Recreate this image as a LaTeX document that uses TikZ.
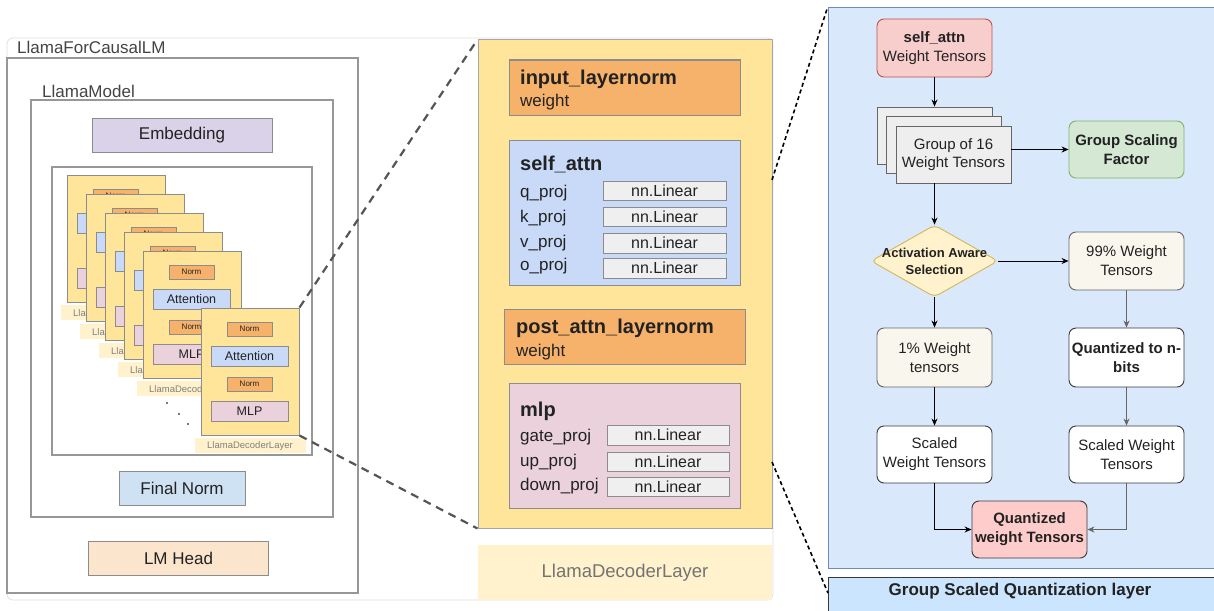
\documentclass[tikz,border=0pt]{standalone}
\usepackage{fontspec}
\setmainfont{Liberation Sans}
\usetikzlibrary{shapes.geometric,arrows.meta,calc}
\definecolor{bordgray}{HTML}{8C8C8C}
\definecolor{lbltxt}{HTML}{444444}
\definecolor{txt}{HTML}{222222}
\definecolor{layeryel}{HTML}{FFE599}
\definecolor{normorg}{HTML}{F6B26B}
\definecolor{attblue}{HTML}{C9DAF8}
\definecolor{mlppink}{HTML}{EAD1DC}
\definecolor{lingray}{HTML}{EFEFEF}
\definecolor{embpurp}{HTML}{D9D2E9}
\definecolor{finblue}{HTML}{CFE2F3}
\definecolor{headorg}{HTML}{FCE5CD}
\definecolor{lblband}{HTML}{FFF2CC}
\definecolor{rpfill}{HTML}{DAE8FC}
\definecolor{rpdraw}{HTML}{6C8EBF}
\definecolor{bandfill}{HTML}{CCE5FF}
\definecolor{saf}{HTML}{F8CECC}
\definecolor{sad}{HTML}{B85450}
\definecolor{gsff}{HTML}{D5E8D4}
\definecolor{gsfd}{HTML}{82B366}
\definecolor{diaf}{HTML}{FFF2CC}
\definecolor{diad}{HTML}{D6B656}
\definecolor{pctf}{HTML}{F9F7ED}
\definecolor{qwf}{HTML}{FFCCCC}
\definecolor{darkd}{HTML}{36393D}
\definecolor{grpf}{HTML}{EEEEEE}
\definecolor{grpd}{HTML}{666666}
\definecolor{dashg}{HTML}{555555}
\begin{document}
\begin{tikzpicture}[x=1pt,y=-1pt,
  f8/.style={font=\fontsize{8}{9}\selectfont},
  f9/.style={font=\fontsize{9.5}{11}\selectfont},
  f12/.style={font=\fontsize{12.5}{14}\selectfont},
  f13/.style={font=\fontsize{13}{17}\selectfont\bfseries},
  f15/.style={font=\fontsize{15}{19}\selectfont},
  f16/.style={font=\fontsize{16}{19}\selectfont},
  f17/.style={font=\fontsize{17}{20}\selectfont},
  f20/.style={font=\fontsize{20}{24}\selectfont\bfseries},
  blk/.style={rectangle, draw=bordgray, line width=1pt, inner sep=0pt, text=txt},
  frm/.style={rectangle, draw=bordgray!90, line width=1.2pt, inner sep=0pt},
  lbl/.style={inner sep=0pt, text=lbltxt, f17},
  ptxt/.style={inner sep=0pt, text=txt},
  lin/.style={blk, fill=lingray, minimum width=123, minimum height=19, f16},
  rbox/.style={rectangle, rounded corners=7, minimum width=115, minimum height=58, align=center, inner sep=0pt, line width=0.9pt, f15, text=txt},
  grp/.style={rectangle, fill=grpf, draw=grpd, line width=0.9pt, minimum width=115, minimum height=57, inner sep=0pt},
  arr/.style={-{Stealth[length=7pt,width=6pt]}, line width=0.9pt, draw=black},
  gdash/.style={draw=dashg, line width=2.2pt, dash pattern=on 8pt off 6pt},
  kdash/.style={draw=black, line width=1.6pt, dash pattern=on 4pt off 3pt}
]
\fill[white] (0,0) rectangle (1214,610);
\useasboundingbox (0,0) rectangle (1214,610);

% outer card
\draw[draw=gray!25, line width=0.8pt, rounded corners=6] (7,38) rectangle (773,600);

% ---------------- left panel ----------------
\node[frm, minimum width=351, minimum height=535] (causal) at (182.5,325.5) {};
\node[lbl, anchor=base west] (causallbl) at (17,53) {LlamaForCausalLM};
\node[frm, minimum width=302, minimum height=417] (model) at (182,308.5) {};
\node[lbl, anchor=base west] (modellbl) at (42,97) {LlamaModel};
\node[blk, fill=embpurp, minimum width=180, minimum height=34, f17] (emb) at (182,135) {Embedding};
\node[frm, minimum width=260, minimum height=288] (stack) at (182,311) {};
\node[blk, fill=finblue, minimum width=126, minimum height=34, f17] (fin) at (182,488) {Final Norm};
\node[blk, fill=headorg, minimum width=180, minimum height=34, f17] (head) at (178.5,558) {LM Head};

\newcommand{\declayer}[4]{%
  \node[rectangle, fill=lblband, inner sep=0pt, minimum width=111, minimum height=15] (#1lab) at (#2+49.5,#3+137.5) {};
  \node[inner sep=0pt, text=gray, f9, anchor=west] (#1labt) at (#2+6,#3+138) {#4};
  \node[blk, fill=layeryel, minimum width=98, minimum height=127] (#1) at (#2+49,#3+63.5) {};
  \node[blk, fill=normorg, minimum width=45, minimum height=14, f8] (#1na) at (#2+48.5,#3+21) {Norm};
  \node[blk, fill=attblue, minimum width=77, minimum height=20, f12] (#1att) at (#2+48.5,#3+48) {Attention};
  \node[blk, fill=normorg, minimum width=45, minimum height=14, f8] (#1nb) at (#2+48.5,#3+76) {Norm};
  \node[blk, fill=mlppink, minimum width=77, minimum height=20, f12] (#1mlp) at (#2+48.5,#3+103) {MLP};
}
\declayer{la}{67}{175}{Lla}
\declayer{lb}{86}{194}{Lla}
\declayer{lc}{105}{213}{Lla}
\declayer{ld}{124}{232}{Lla}
\declayer{le}{143}{251}{LlamaDecod}
\fill[black!70] (167,403) circle (1.1) (179,414) circle (1.1) (188,424) circle (1.1);
\declayer{lf}{201}{308}{LlamaDecoderLayer}

% ---------------- middle panel ----------------
\node[rectangle, fill=layeryel, draw=gray!70, line width=1pt, minimum width=294, minimum height=488, inner sep=0pt] (dec) at (625,284) {};
\node[rectangle, fill=lblband, minimum width=294, minimum height=55, inner sep=0pt, text=gray!90!black, font=\fontsize{18.5}{22}\selectfont] (declbl) at (625,572.5) {LlamaDecoderLayer};

\node[blk, fill=normorg, minimum width=231, minimum height=55] (inln) at (624.5,87.5) {};
\node[ptxt, f20, anchor=base west] (inlnt) at (520,84) {input\_layernorm};
\node[ptxt, f17, anchor=base west] (inlnw) at (520,106) {weight};

\node[blk, fill=attblue, minimum width=231, minimum height=145] (satt) at (624.5,212.5) {};
\node[ptxt, f20, anchor=base west] (sattt) at (520,170) {self\_attn};
\node[ptxt, f17, anchor=base west] (qp) at (520,197) {q\_proj};
\node[ptxt, f17, anchor=base west] (kp) at (520,222) {k\_proj};
\node[ptxt, f17, anchor=base west] (vp) at (520,247) {v\_proj};
\node[ptxt, f17, anchor=base west] (op) at (520,270) {o\_proj};
\node[lin] (ql) at (664.5,190.5) {nn.Linear};
\node[lin] (kl) at (664.5,216.5) {nn.Linear};
\node[lin, minimum height=20] (vl) at (664.5,243) {nn.Linear};
\node[lin, minimum height=20] (ol) at (664.5,268) {nn.Linear};

\node[blk, fill=normorg, minimum width=241, minimum height=55] (paln) at (624.5,336.5) {};
\node[ptxt, f20, anchor=base west] (palnt) at (516,333) {post\_attn\_layernorm};
\node[ptxt, f17, anchor=base west] (palnw) at (516,356) {weight};

\node[blk, fill=mlppink, minimum width=231, minimum height=125] (mlp) at (624.5,445.5) {};
\node[ptxt, f20, anchor=base west] (mlpt) at (520,416) {mlp};
\node[ptxt, f17, anchor=base west] (gp) at (520,441) {gate\_proj};
\node[ptxt, f17, anchor=base west] (upp) at (520,466) {up\_proj};
\node[ptxt, f17, anchor=base west] (dp) at (520,490) {down\_proj};
\node[lin, minimum width=122, minimum height=20] (gl) at (668,435) {nn.Linear};
\node[lin, minimum width=122] (ul) at (668,461.5) {nn.Linear};
\node[lin, minimum width=122] (dl) at (668,486.5) {nn.Linear};

% gray dashed zoom lines
\draw[gdash] (lf.north east) -- (dec.north west);
\draw[gdash] (lf.south east) -- (dec.south west);

% ---------------- right panel ----------------
\node[rectangle, fill=rpfill, draw=rpdraw, line width=1pt, minimum width=400, minimum height=560, inner sep=0pt] (rp) at (1028,288) {};
\node[rectangle, fill=bandfill, draw=darkd, line width=1pt, minimum width=400, minimum height=50, inner sep=0pt] (band) at (1028,602) {};
\node[ptxt, font=\fontsize{17}{20}\selectfont\bfseries] (bandt) at (1020,591) {Group Scaled Quantization layer};

\coordinate (ca) at (772,180);
\coordinate (cb) at (772,462);
\coordinate (cc) at (828,593);
\draw[kdash] (ca) -- (rp.north west);
\draw[kdash] (cb) -- (cc);

\node[rbox, fill=saf, draw=sad] (sa) at (934.5,48) {\textbf{self\_attn}\\Weight Tensors};
\node[grp] (gb) at (934.5,135.5) {};
\node[grp] (gm) at (944,145) {};
\node[grp, align=center, text=txt, font=\fontsize{15}{18}\selectfont] (gf) at (953.5,154.5) {Group of 16\\Weight Tensors};
\node[rbox, fill=gsff, draw=gsfd, minimum height=57, font=\fontsize{15}{19}\selectfont\bfseries] (gsf) at (1126.5,149.5) {Group Scaling\\Factor};
\node[diamond, fill=diaf, draw=diad, line width=0.9pt, rounded corners=5, minimum width=127, minimum height=72, inner sep=0pt] (dia) at (934.5,261) {};
\node[ptxt, f13, align=center] (diat) at (dia) {Activation Aware\\Selection};
\node[rbox, fill=pctf, draw=grpd] (p99) at (1126.5,261) {99\% Weight\\Tensors};
\node[rbox, fill=pctf, draw=grpd, minimum height=59] (p1) at (934.5,357.5) {1\% Weight\\tensors};
\node[rbox, fill=white, draw=darkd, minimum height=59, font=\fontsize{15}{19}\selectfont\bfseries] (qn) at (1126.5,357.5) {Quantized to n-\\bits};
\node[rbox, fill=white, draw=darkd, minimum height=57] (sl) at (934.5,454.5) {Scaled\\Weight Tensors};
\node[rbox, fill=white, draw=darkd, minimum height=57] (sr) at (1126.5,454.5) {Scaled Weight\\Tensors};
\node[rbox, fill=qwf, draw=darkd, minimum height=57, font=\fontsize{15}{19}\selectfont\bfseries] (qw) at (1029.5,529.5) {Quantized\\weight Tensors};

\draw[arr] (sa) -- (gb);
\draw[arr] (gf.east |- gsf.west) -- (gsf.west);
\draw[arr] (sa.south |- gf.south) -- (dia.north);
\draw[arr] (dia.east) -- (p99.west);
\draw[arr] (dia.south) -- (p1.north);
\draw[arr, draw=grpd] (p99) -- (qn);
\draw[arr] (p1) -- (sl);
\draw[arr, draw=grpd] (qn) -- (sr);
\draw[arr] (sl.south) |- (qw.west);
\draw[arr, draw=grpd] (sr.south) |- (qw.east);
\end{tikzpicture}
\end{document}
